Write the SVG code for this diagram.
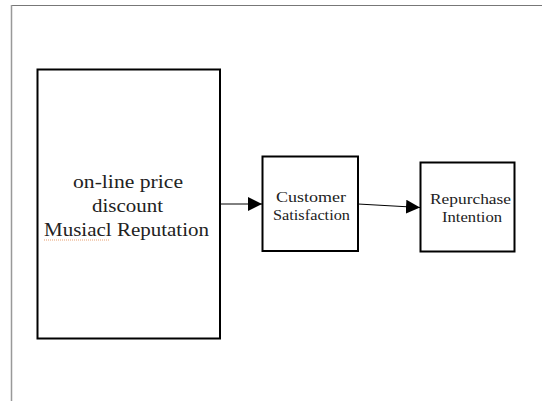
<svg xmlns="http://www.w3.org/2000/svg" width="542" height="401" viewBox="0 0 542 401">
<style>
.box{fill:#fff;stroke:#000;stroke-width:2}
.t{font-family:"Liberation Serif","DejaVu Serif",serif;fill:#222;text-anchor:middle}
.c{stroke:#000;stroke-width:1;fill:none}
</style>
<defs>
<marker id="ah" markerWidth="14" markerHeight="14" refX="14" refY="7" orient="auto" markerUnits="userSpaceOnUse">
<path d="M0,0 L14,7 L0,14 Z" fill="#000"/>
</marker>
</defs>
<rect width="542" height="401" fill="#fff"/>
<g id="frame">
<line x1="11" y1="5.5" x2="542" y2="5.5" stroke="#777" stroke-width="1"/>
<line x1="11.5" y1="5" x2="11.5" y2="401" stroke="#999" stroke-width="1.5"/>
</g>
<g id="n1">
<rect class="box" x="37.5" y="69.5" width="182.5" height="269"/>
<text class="t" x="128" y="188" font-size="18" textLength="110" lengthAdjust="spacingAndGlyphs">on-line price</text>
<text class="t" x="127.5" y="212" font-size="18" textLength="71" lengthAdjust="spacingAndGlyphs">discount</text>
<text class="t" x="126.5" y="236" font-size="18" textLength="165" lengthAdjust="spacingAndGlyphs">Musiacl Reputation</text>
<line x1="44" y1="240" x2="110" y2="240" stroke="#e8a070" stroke-width="1" stroke-dasharray="1,1"/>
</g>
<g id="n2">
<rect class="box" x="262.5" y="156.5" width="95.5" height="94.5"/>
<text class="t" x="311" y="202" font-size="15" textLength="70" lengthAdjust="spacingAndGlyphs">Customer</text>
<text class="t" x="311.5" y="220" font-size="15" textLength="77" lengthAdjust="spacingAndGlyphs">Satisfaction</text>
</g>
<g id="n3">
<rect class="box" x="420.5" y="162.5" width="94" height="89"/>
<text class="t" x="470.5" y="204" font-size="15" textLength="81" lengthAdjust="spacingAndGlyphs">Repurchase</text>
<text class="t" x="472" y="222" font-size="15" textLength="60" lengthAdjust="spacingAndGlyphs">Intention</text>
</g>
<g id="connectors">
<line class="c" x1="220" y1="204" x2="262" y2="204" marker-end="url(#ah)"/>
<line class="c" x1="358" y1="204" x2="420" y2="207.5" marker-end="url(#ah)"/>
</g>
</svg>
